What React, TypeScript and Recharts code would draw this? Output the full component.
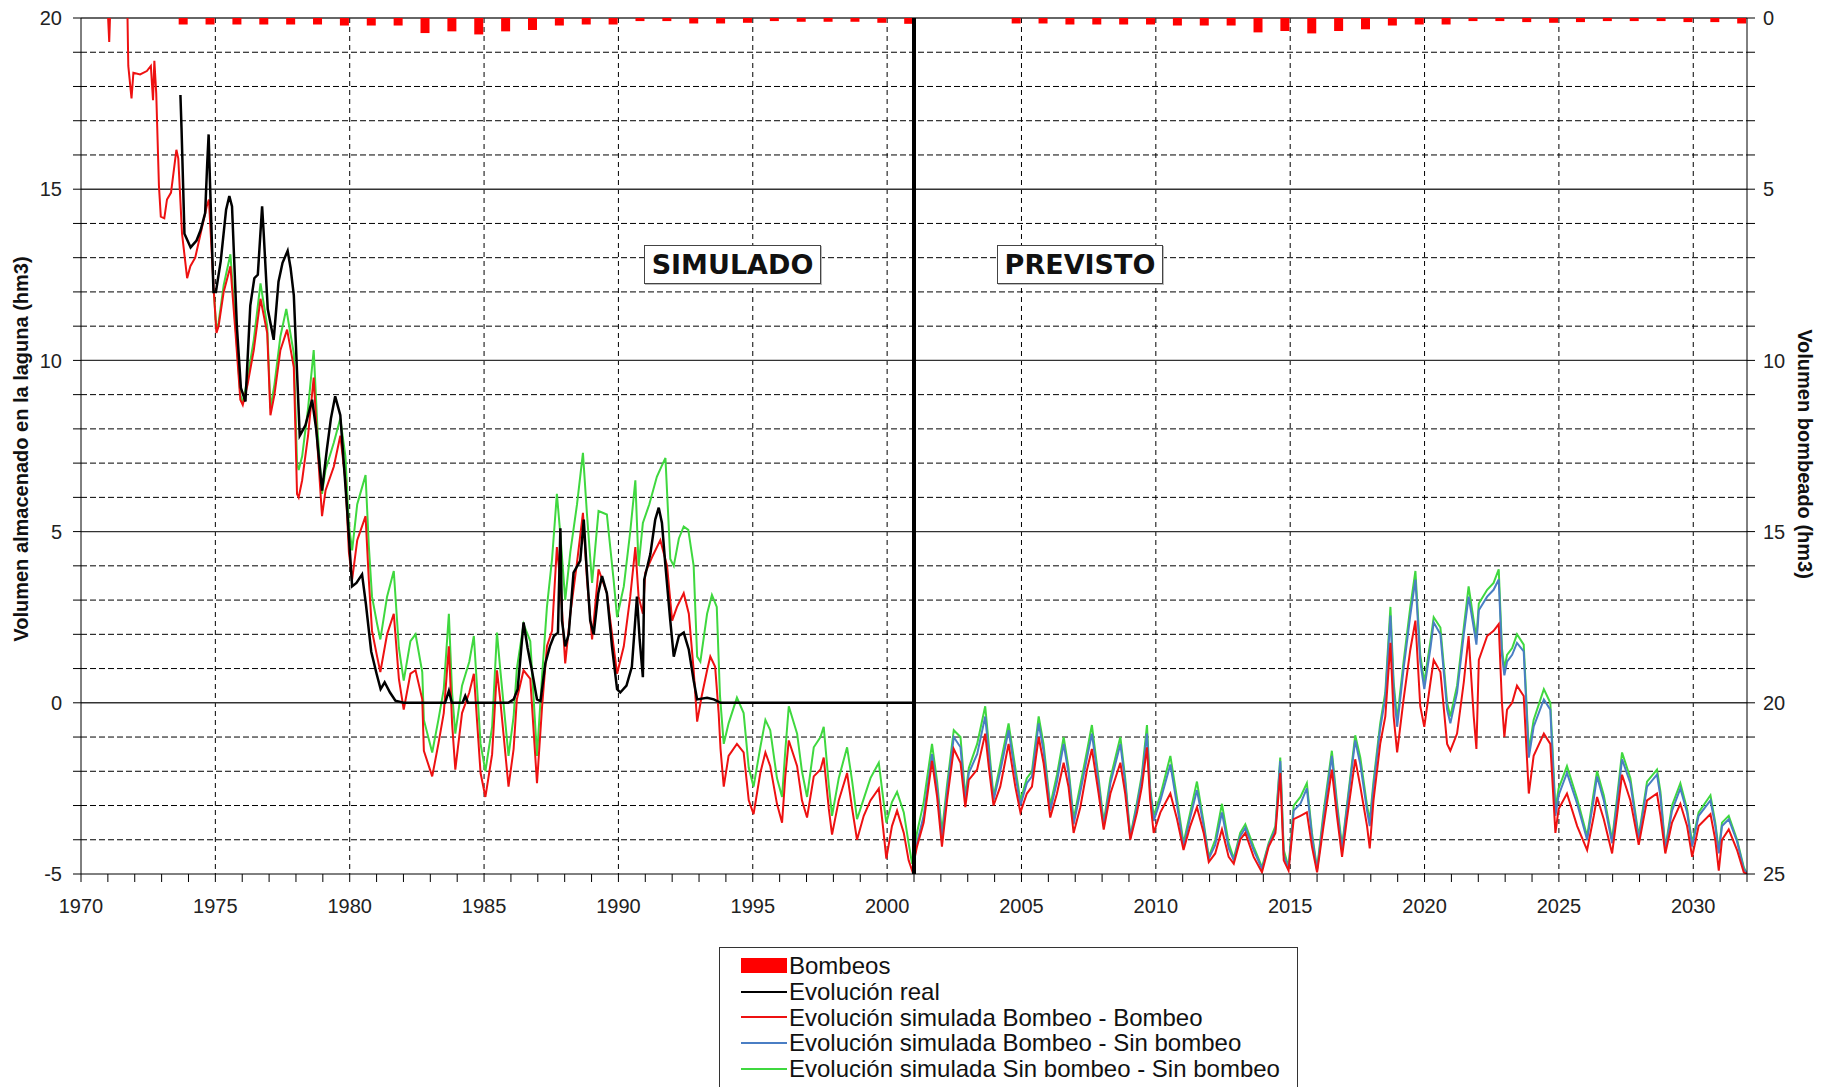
import React from 'react';
import { ComposedChart, Line, Bar, XAxis, YAxis, CartesianGrid, ReferenceLine } from 'recharts';

type Pt = [number, number];

// volumen bombeado por campaña (hm3), eje derecho invertido
const bombeos: Pt[] = [
  [1973.8, 0.19], [1974.8, 0.19], [1975.8, 0.19], [1976.8, 0.19], [1977.8, 0.19], [1978.8, 0.19],
  [1979.8, 0.22], [1980.8, 0.22], [1981.8, 0.22], [1982.8, 0.44], [1983.8, 0.39], [1984.8, 0.48],
  [1985.8, 0.39], [1986.8, 0.35], [1987.8, 0.22], [1988.8, 0.19], [1989.8, 0.19], [1990.8, 0.09],
  [1991.8, 0.09], [1992.8, 0.16], [1993.8, 0.16], [1994.8, 0.14], [1995.8, 0.09], [1996.8, 0.11],
  [1997.8, 0.11], [1998.8, 0.11], [1999.8, 0.14], [2000.8, 0.17],
  [2004.8, 0.16], [2005.8, 0.16], [2006.8, 0.19], [2007.8, 0.19], [2008.8, 0.19], [2009.8, 0.19],
  [2010.8, 0.22], [2011.8, 0.22], [2012.8, 0.22], [2013.8, 0.42], [2014.8, 0.38], [2015.8, 0.45],
  [2016.8, 0.38], [2017.8, 0.33], [2018.8, 0.22], [2019.8, 0.19], [2020.8, 0.19], [2021.8, 0.09],
  [2022.8, 0.09], [2023.8, 0.12], [2024.8, 0.14], [2025.8, 0.12], [2026.8, 0.09], [2027.8, 0.09],
  [2028.8, 0.09], [2029.8, 0.12], [2030.8, 0.12], [2031.8, 0.16],
];

const evolucionReal: Pt[] = [
  [1973.7, 17.75], [1973.74, 16.8], [1973.85, 13.7], [1974.08, 13.3], [1974.3, 13.5], [1974.45, 13.8],
  [1974.62, 14.3], [1974.7, 15.8], [1974.75, 16.6], [1974.8, 15.2], [1974.93, 12.0], [1975.02, 12.0],
  [1975.2, 12.9], [1975.4, 14.4], [1975.52, 14.8], [1975.62, 14.5], [1975.8, 11.0], [1975.95, 9.2],
  [1976.12, 8.8], [1976.3, 11.6], [1976.45, 12.4], [1976.58, 12.5], [1976.74, 14.5], [1976.8, 13.7],
  [1976.95, 11.5], [1977.17, 10.6], [1977.35, 12.3], [1977.5, 12.85], [1977.69, 13.2], [1977.8, 12.7],
  [1977.92, 11.9], [1978.14, 7.8], [1978.35, 8.1], [1978.6, 8.85], [1978.75, 8.0], [1978.97, 6.2],
  [1979.15, 7.4], [1979.3, 8.3], [1979.46, 8.95], [1979.65, 8.4], [1979.9, 5.7], [1980.09, 3.4],
  [1980.25, 3.5], [1980.46, 3.75], [1980.6, 2.9], [1980.8, 1.5], [1981.0, 0.85], [1981.15, 0.4],
  [1981.3, 0.6], [1981.5, 0.3], [1981.7, 0.06], [1982.0, 0.0], [1983.55, 0.0], [1983.69, 0.35],
  [1983.8, 0.0], [1984.2, 0.0], [1984.3, 0.2], [1984.4, 0.0], [1985.9, 0.0], [1986.1, 0.1],
  [1986.25, 0.4], [1986.47, 2.35], [1986.62, 1.6], [1986.78, 0.95], [1986.97, 0.1], [1987.1, 0.05],
  [1987.28, 1.15], [1987.45, 1.65], [1987.6, 1.95], [1987.75, 2.05], [1987.84, 5.1], [1987.9, 2.4],
  [1988.02, 1.65], [1988.15, 2.0], [1988.33, 3.8], [1988.58, 4.15], [1988.71, 5.35], [1988.8, 4.15],
  [1988.95, 2.4], [1989.08, 2.0], [1989.25, 3.2], [1989.39, 3.7], [1989.57, 3.2], [1989.76, 1.65],
  [1989.95, 0.4], [1990.07, 0.3], [1990.3, 0.5], [1990.5, 1.05], [1990.69, 3.1], [1990.79, 1.85],
  [1990.91, 0.75], [1990.96, 3.6], [1991.19, 4.35], [1991.37, 5.35], [1991.5, 5.7], [1991.62, 5.25],
  [1991.75, 4.0], [1991.93, 2.4], [1992.06, 1.35], [1992.25, 1.95], [1992.43, 2.05], [1992.62, 1.55],
  [1992.8, 0.65], [1992.93, 0.1], [1993.3, 0.15], [1993.55, 0.1], [1993.8, 0.0], [2001.0, 0.0],
];

const simBombeoBombeo: Pt[] = [
  [1970.95, 21.0], [1971.05, 19.3], [1971.12, 21.0], [1971.7, 21.5], [1971.76, 18.6], [1971.88, 17.65],
  [1971.95, 18.4], [1972.2, 18.35], [1972.45, 18.45], [1972.6, 18.6], [1972.68, 17.6], [1972.73, 18.75],
  [1972.8, 17.8], [1972.9, 15.1], [1972.97, 14.2], [1973.1, 14.15], [1973.2, 14.7], [1973.35, 14.9],
  [1973.55, 16.15], [1973.62, 15.9], [1973.76, 13.7], [1973.95, 12.4], [1974.07, 12.75], [1974.25, 13.0],
  [1974.45, 13.7], [1974.68, 14.5], [1974.76, 14.7], [1974.94, 12.05], [1975.04, 10.8], [1975.12, 11.0],
  [1975.31, 12.0], [1975.56, 12.75], [1975.75, 10.8], [1975.93, 8.85], [1976.02, 8.7], [1976.2, 9.3],
  [1976.43, 10.3], [1976.68, 11.8], [1976.93, 10.8], [1977.05, 8.4], [1977.2, 9.0], [1977.42, 10.3],
  [1977.67, 10.9], [1977.92, 9.8], [1978.04, 6.1], [1978.1, 6.0], [1978.23, 6.5], [1978.45, 7.8],
  [1978.66, 9.5], [1978.8, 7.5], [1978.97, 5.45], [1979.1, 6.2], [1979.41, 6.9], [1979.65, 7.8],
  [1979.84, 6.5], [1979.97, 4.4], [1980.09, 3.6], [1980.28, 4.75], [1980.59, 5.45], [1980.71, 3.6],
  [1980.83, 2.1], [1981.02, 1.35], [1981.14, 0.9], [1981.39, 2.0], [1981.64, 2.6], [1981.83, 0.7],
  [1982.01, -0.2], [1982.26, 0.85], [1982.45, 0.95], [1982.7, 0.1], [1982.76, -1.4], [1983.07, -2.15],
  [1983.3, -1.2], [1983.5, -0.3], [1983.69, 1.65], [1983.81, -0.6], [1983.93, -1.95], [1984.18, -0.3],
  [1984.45, 0.3], [1984.62, 0.85], [1984.87, -2.05], [1985.05, -2.75], [1985.3, -1.5], [1985.48, 0.95],
  [1985.6, 0.1], [1985.91, -2.45], [1986.1, -1.35], [1986.22, 0.1], [1986.47, 0.95], [1986.72, 0.7],
  [1986.97, -2.35], [1987.16, -0.1], [1987.34, 1.65], [1987.53, 2.1], [1987.71, 4.55], [1987.83, 3.6],
  [1988.02, 1.15], [1988.21, 2.6], [1988.46, 4.1], [1988.68, 5.55], [1988.83, 3.6], [1989.02, 1.85],
  [1989.26, 3.9], [1989.57, 3.2], [1989.82, 1.65], [1989.95, 0.85], [1990.2, 1.65], [1990.44, 3.1],
  [1990.63, 4.55], [1990.75, 3.1], [1990.91, 2.6], [1991.0, 3.8], [1991.25, 4.25], [1991.56, 4.75],
  [1991.81, 4.0], [1992.0, 2.4], [1992.18, 2.8], [1992.43, 3.2], [1992.62, 2.6], [1992.8, 0.95],
  [1992.93, -0.55], [1993.1, 0.2], [1993.3, 0.95], [1993.42, 1.35], [1993.6, 1.05], [1993.73, -0.3],
  [1993.8, -1.35], [1993.92, -2.45], [1994.1, -1.55], [1994.41, -1.2], [1994.66, -1.45], [1994.85, -2.85],
  [1995.03, -3.25], [1995.28, -2.05], [1995.47, -1.45], [1995.65, -1.85], [1995.9, -2.95], [1996.09, -3.5],
  [1996.21, -2.15], [1996.34, -1.1], [1996.65, -1.85], [1996.83, -2.85], [1997.02, -3.35], [1997.27, -2.15],
  [1997.52, -1.95], [1997.64, -1.6], [1997.83, -3.1], [1997.95, -3.85], [1998.2, -2.85], [1998.51, -2.05],
  [1998.7, -3.1], [1998.88, -4.0], [1999.13, -3.3], [1999.38, -2.85], [1999.69, -2.5], [1999.87, -3.8],
  [1999.97, -4.55], [2000.18, -3.6], [2000.37, -3.15], [2000.62, -3.8], [2000.8, -4.6], [2000.93, -4.9],
  [2001.11, -4.2], [2001.36, -3.5], [2001.67, -1.7], [2001.86, -2.75], [2002.04, -4.2], [2002.23, -2.85],
  [2002.48, -1.35], [2002.73, -1.75], [2002.91, -3.05], [2003.04, -2.25], [2003.35, -1.95], [2003.65, -0.9],
  [2003.78, -1.85], [2003.96, -3.0], [2004.21, -2.45], [2004.52, -1.2], [2004.77, -2.45], [2004.96, -3.2],
  [2005.2, -2.65], [2005.39, -2.45], [2005.64, -1.0], [2005.82, -1.75], [2006.07, -3.35], [2006.32, -2.65],
  [2006.57, -1.75], [2006.75, -2.45], [2006.94, -3.8], [2007.19, -3.05], [2007.44, -1.95], [2007.62, -1.35],
  [2007.87, -2.65], [2008.06, -3.7], [2008.31, -2.65], [2008.68, -1.75], [2008.86, -2.65], [2009.05, -4.0],
  [2009.3, -3.2], [2009.48, -2.45], [2009.67, -1.3], [2009.79, -2.85], [2009.92, -3.8], [2010.17, -3.2],
  [2010.54, -2.65], [2010.79, -3.4], [2011.03, -4.3], [2011.28, -3.6], [2011.53, -3.05], [2011.78, -3.8],
  [2011.97, -4.65], [2012.21, -4.4], [2012.46, -3.7], [2012.71, -4.5], [2012.9, -4.7], [2013.14, -4.0],
  [2013.33, -3.8], [2013.64, -4.5], [2013.95, -4.95], [2014.2, -4.2], [2014.45, -3.8], [2014.63, -2.05],
  [2014.76, -4.6], [2014.94, -4.9], [2015.13, -3.4], [2015.38, -3.3], [2015.62, -3.2], [2015.81, -4.2],
  [2016.0, -4.95], [2016.24, -3.6], [2016.55, -1.95], [2016.74, -3.3], [2016.93, -4.5], [2017.11, -3.4],
  [2017.42, -1.65], [2017.61, -2.45], [2017.86, -3.6], [2017.96, -4.25], [2018.1, -2.85], [2018.35, -1.2],
  [2018.54, -0.4], [2018.73, 1.75], [2018.85, -0.4], [2018.98, -1.45], [2019.22, 0.1], [2019.47, 1.55],
  [2019.66, 2.4], [2019.84, -0.1], [2019.99, -0.7], [2020.22, 0.6], [2020.34, 1.25], [2020.59, 0.9],
  [2020.84, -1.2], [2020.96, -1.4], [2021.21, -0.9], [2021.46, 0.6], [2021.64, 1.95], [2021.83, -0.4],
  [2021.93, -1.35], [2022.02, 1.25], [2022.33, 1.95], [2022.57, 2.1], [2022.76, 2.3], [2022.88, 0.0],
  [2022.97, -1.0], [2023.07, -0.2], [2023.26, 0.0], [2023.44, 0.5], [2023.69, 0.2], [2023.88, -2.65],
  [2024.06, -1.55], [2024.44, -0.9], [2024.68, -1.2], [2024.87, -3.8], [2024.99, -3.1], [2025.3, -2.65],
  [2025.68, -3.6], [2026.05, -4.3], [2026.3, -3.3], [2026.42, -2.75], [2026.67, -3.4], [2026.98, -4.4],
  [2027.16, -3.3], [2027.35, -2.1], [2027.66, -2.85], [2027.97, -4.15], [2028.28, -2.85], [2028.65, -2.65],
  [2028.78, -3.3], [2028.96, -4.4], [2029.21, -3.5], [2029.52, -2.95], [2029.77, -3.6], [2029.96, -4.5],
  [2030.2, -3.6], [2030.64, -3.25], [2030.82, -4.0], [2030.95, -4.9], [2031.07, -4.0], [2031.32, -3.7],
  [2031.63, -4.3], [2031.88, -4.95], [2032.0, -5.0],
];

const simBombeoSinBombeo: Pt[] = [
  [2000.93, -4.9], [2001.11, -4.1], [2001.36, -3.3], [2001.67, -1.5], [2001.86, -2.5], [2002.04, -4.0],
  [2002.23, -2.6], [2002.48, -1.0], [2002.73, -1.3], [2002.91, -2.9], [2003.04, -2.05], [2003.35, -1.5],
  [2003.65, -0.4], [2003.78, -1.45], [2003.96, -2.85], [2004.21, -2.0], [2004.52, -0.8], [2004.77, -2.1],
  [2004.96, -3.0], [2005.2, -2.35], [2005.39, -2.15], [2005.64, -0.6], [2005.82, -1.4], [2006.07, -3.15],
  [2006.32, -2.3], [2006.57, -1.2], [2006.75, -2.05], [2006.94, -3.55], [2007.19, -2.6], [2007.44, -1.6],
  [2007.62, -0.9], [2007.87, -2.35], [2008.06, -3.6], [2008.31, -2.35], [2008.68, -1.2], [2008.86, -2.35],
  [2009.05, -3.95], [2009.3, -3.0], [2009.48, -2.2], [2009.67, -0.9], [2009.79, -2.6], [2009.92, -3.45],
  [2010.17, -2.85], [2010.54, -1.8], [2010.79, -3.0], [2011.03, -4.2], [2011.28, -3.35], [2011.53, -2.55],
  [2011.78, -3.6], [2011.97, -4.55], [2012.21, -4.15], [2012.46, -3.2], [2012.71, -4.25], [2012.9, -4.6],
  [2013.14, -3.9], [2013.33, -3.65], [2013.64, -4.3], [2013.95, -4.85], [2014.2, -4.15], [2014.45, -3.7],
  [2014.63, -1.7], [2014.76, -4.45], [2014.94, -4.85], [2015.13, -3.15], [2015.38, -2.95], [2015.62, -2.5],
  [2015.81, -3.9], [2016.0, -4.9], [2016.24, -3.35], [2016.55, -1.55], [2016.74, -3.05], [2016.93, -4.3],
  [2017.11, -3.1], [2017.42, -1.1], [2017.61, -1.8], [2017.86, -3.15], [2017.96, -3.6], [2018.1, -2.45],
  [2018.35, -0.75], [2018.54, 0.15], [2018.73, 2.55], [2018.85, 0.4], [2018.98, -0.7], [2019.22, 1.0],
  [2019.47, 2.55], [2019.66, 3.6], [2019.84, 1.2], [2019.99, 0.4], [2020.22, 1.6], [2020.34, 2.35],
  [2020.59, 2.0], [2020.84, -0.2], [2020.96, -0.6], [2021.21, 0.3], [2021.46, 2.0], [2021.64, 3.1],
  [2021.83, 2.2], [2021.93, 1.7], [2022.02, 2.7], [2022.33, 3.1], [2022.57, 3.3], [2022.76, 3.6],
  [2022.88, 1.4], [2022.97, 0.8], [2023.07, 1.2], [2023.26, 1.4], [2023.44, 1.75], [2023.69, 1.5],
  [2023.88, -1.6], [2024.06, -0.7], [2024.44, 0.1], [2024.68, -0.2], [2024.87, -3.3], [2024.99, -2.7],
  [2025.3, -2.05], [2025.68, -2.95], [2026.05, -4.0], [2026.3, -2.8], [2026.42, -2.15], [2026.67, -2.85],
  [2026.98, -4.1], [2027.16, -2.95], [2027.35, -1.65], [2027.66, -2.35], [2027.97, -4.0], [2028.28, -2.45],
  [2028.65, -2.1], [2028.78, -2.75], [2028.96, -4.3], [2029.21, -3.15], [2029.52, -2.5], [2029.77, -3.2],
  [2029.96, -4.2], [2030.2, -3.3], [2030.64, -2.85], [2030.82, -3.6], [2030.95, -4.4], [2031.07, -3.6],
  [2031.32, -3.4], [2031.63, -4.05], [2031.88, -4.85], [2032.0, -5.0],
];

const simSinBombeo: Pt[] = [
  [1974.94, 12.05], [1975.04, 10.9], [1975.12, 11.1], [1975.31, 12.2], [1975.56, 13.1], [1975.75, 11.0],
  [1975.93, 9.0], [1976.02, 8.75], [1976.2, 9.5], [1976.43, 10.6], [1976.68, 12.25], [1976.93, 11.0],
  [1977.05, 8.6], [1977.2, 9.3], [1977.42, 10.7], [1977.64, 11.5], [1977.92, 10.2], [1978.04, 7.0],
  [1978.1, 6.8], [1978.23, 7.2], [1978.45, 8.6], [1978.66, 10.3], [1978.8, 8.0], [1978.97, 6.1],
  [1979.1, 6.8], [1979.41, 7.6], [1979.65, 8.3], [1979.84, 7.2], [1979.97, 5.2], [1980.09, 4.45],
  [1980.28, 5.8], [1980.59, 6.65], [1980.71, 4.6], [1980.83, 3.1], [1981.02, 2.3], [1981.14, 1.85],
  [1981.39, 3.1], [1981.64, 3.85], [1981.83, 1.6], [1982.01, 0.65], [1982.26, 1.8], [1982.45, 2.0],
  [1982.7, 0.9], [1982.76, -0.5], [1983.07, -1.45], [1983.3, -0.5], [1983.5, 0.4], [1983.69, 2.6],
  [1983.81, 0.3], [1983.93, -0.9], [1984.18, 0.5], [1984.45, 1.2], [1984.62, 1.95], [1984.87, -1.2],
  [1985.05, -2.0], [1985.3, -0.7], [1985.48, 2.05], [1985.6, 1.0], [1985.91, -1.55], [1986.1, -0.4],
  [1986.22, 1.0], [1986.47, 2.3], [1986.72, 1.8], [1986.97, -1.55], [1987.16, 0.8], [1987.34, 2.8],
  [1987.53, 4.2], [1987.71, 6.1], [1987.83, 5.0], [1988.02, 3.0], [1988.21, 4.4], [1988.46, 5.8],
  [1988.68, 7.3], [1988.83, 5.5], [1989.02, 3.5], [1989.26, 5.6], [1989.57, 5.5], [1989.82, 3.6],
  [1989.95, 2.5], [1990.2, 3.4], [1990.44, 5.0], [1990.63, 6.5], [1990.75, 4.0], [1990.91, 5.25],
  [1991.15, 5.8], [1991.43, 6.6], [1991.6, 6.9], [1991.75, 7.15], [1991.93, 4.2], [1992.06, 4.0],
  [1992.25, 4.8], [1992.43, 5.15], [1992.6, 5.05], [1992.8, 4.0], [1992.93, 1.35], [1993.05, 1.2],
  [1993.3, 2.6], [1993.48, 3.15], [1993.66, 2.8], [1993.78, 0.2], [1993.92, -1.2], [1994.1, -0.6],
  [1994.41, 0.15], [1994.66, -0.3], [1994.85, -1.9], [1995.03, -2.45], [1995.28, -1.3], [1995.47, -0.5],
  [1995.65, -0.8], [1995.9, -2.2], [1996.09, -2.75], [1996.21, -1.4], [1996.34, -0.1], [1996.65, -0.9],
  [1996.83, -2.0], [1997.02, -2.75], [1997.27, -1.3], [1997.52, -1.0], [1997.64, -0.7], [1997.83, -2.4],
  [1997.95, -3.3], [1998.2, -2.2], [1998.51, -1.3], [1998.7, -2.3], [1998.88, -3.4], [1999.13, -2.8],
  [1999.38, -2.2], [1999.69, -1.75], [1999.87, -2.9], [1999.97, -3.5], [2000.18, -2.9], [2000.37, -2.6],
  [2000.62, -3.2], [2000.8, -4.1], [2000.93, -4.7], [2001.11, -3.8], [2001.36, -2.9], [2001.67, -1.2],
  [2001.86, -2.3], [2002.04, -3.8], [2002.23, -2.4], [2002.48, -0.8], [2002.73, -1.0], [2002.91, -2.75],
  [2003.04, -1.9], [2003.35, -1.2], [2003.65, -0.1], [2003.78, -1.2], [2003.96, -2.75], [2004.21, -1.8],
  [2004.52, -0.6], [2004.77, -1.9], [2004.96, -2.85], [2005.2, -2.2], [2005.39, -2.0], [2005.64, -0.4],
  [2005.82, -1.2], [2006.07, -3.0], [2006.32, -2.1], [2006.57, -1.0], [2006.75, -1.9], [2006.94, -3.4],
  [2007.19, -2.4], [2007.44, -1.4], [2007.62, -0.65], [2007.87, -2.2], [2008.06, -3.5], [2008.31, -2.2],
  [2008.68, -1.0], [2008.86, -2.2], [2009.05, -3.9], [2009.3, -2.9], [2009.48, -2.1], [2009.67, -0.65],
  [2009.79, -2.5], [2009.92, -3.3], [2010.17, -2.7], [2010.54, -1.55], [2010.79, -2.8], [2011.03, -4.1],
  [2011.28, -3.2], [2011.53, -2.3], [2011.78, -3.5], [2011.97, -4.5], [2012.21, -4.0], [2012.46, -2.95],
  [2012.71, -4.1], [2012.9, -4.55], [2013.14, -3.8], [2013.33, -3.55], [2013.64, -4.2], [2013.95, -4.8],
  [2014.2, -4.1], [2014.45, -3.6], [2014.63, -1.6], [2014.76, -4.3], [2014.94, -4.8], [2015.13, -3.0],
  [2015.38, -2.75], [2015.62, -2.35], [2015.81, -3.8], [2016.0, -4.85], [2016.24, -3.2], [2016.55, -1.4],
  [2016.74, -2.9], [2016.93, -4.2], [2017.11, -3.0], [2017.42, -0.95], [2017.61, -1.6], [2017.86, -3.0],
  [2017.96, -3.45], [2018.1, -2.3], [2018.35, -0.6], [2018.54, 0.3], [2018.73, 2.8], [2018.85, 0.6],
  [2018.98, -0.5], [2019.22, 1.2], [2019.47, 2.8], [2019.66, 3.85], [2019.84, 1.4], [2019.99, 0.6],
  [2020.22, 1.8], [2020.34, 2.5], [2020.59, 2.2], [2020.84, 0.0], [2020.96, -0.4], [2021.21, 0.5],
  [2021.46, 2.2], [2021.64, 3.4], [2021.83, 2.4], [2021.93, 1.9], [2022.02, 2.9], [2022.33, 3.3],
  [2022.57, 3.5], [2022.76, 3.9], [2022.88, 1.6], [2022.97, 1.0], [2023.07, 1.4], [2023.26, 1.6],
  [2023.44, 2.0], [2023.69, 1.7], [2023.88, -1.4], [2024.06, -0.5], [2024.44, 0.4], [2024.68, 0.0],
  [2024.87, -3.1], [2024.99, -2.5], [2025.3, -1.85], [2025.68, -2.8], [2026.05, -3.9], [2026.3, -2.6],
  [2026.42, -2.0], [2026.67, -2.7], [2026.98, -4.0], [2027.16, -2.8], [2027.35, -1.45], [2027.66, -2.2],
  [2027.97, -3.9], [2028.28, -2.3], [2028.65, -1.95], [2028.78, -2.6], [2028.96, -4.25], [2029.21, -3.0],
  [2029.52, -2.35], [2029.77, -3.1], [2029.96, -4.1], [2030.2, -3.2], [2030.64, -2.7], [2030.82, -3.5],
  [2030.95, -4.3], [2031.07, -3.5], [2031.32, -3.3], [2031.63, -4.0], [2031.88, -4.8], [2032.0, -5.0],
];

const yearTicks = Array.from({ length: 63 }, (_, i) => 1970 + i);
const volTicks = Array.from({ length: 26 }, (_, i) => -5 + i);
const bombTicks = Array.from({ length: 26 }, (_, i) => i);
const majorYears = [1975, 1980, 1985, 1990, 1995, 2000, 2005, 2010, 2015, 2020, 2025, 2030];
const majorLevels = [0, 5, 10, 15, 20];
const minorLevels = volTicks.filter((v) => v % 5 !== 0);

const RED = '#ee1111';
const BLUE = '#4a7ec4';
const GREEN = '#3fd83f';
const BAR_W = 9;

const legendItems = [
  { label: 'Bombeos', color: '#ff0000', box: true },
  { label: 'Evolución real', color: '#000000', box: false },
  { label: 'Evolución simulada Bombeo - Bombeo', color: RED, box: false },
  { label: 'Evolución simulada Bombeo - Sin bombeo', color: BLUE, box: false },
  { label: 'Evolución simulada Sin bombeo - Sin bombeo', color: GREEN, box: false },
];

const rows = (pts: Pt[]) => pts.map(([t, v]) => ({ t, v }));
const barRows = bombeos.map(([t, b]) => ({ t, b }));

// fixed-width column centred on the slot recharts computes for each campaign
function BombeoBar(props: any) {
  const { x, y, width, height, fill } = props;
  if (x == null || y == null) return null;
  const cx = x + (width || 0) / 2;
  const top = Math.min(y, y + height);
  return <rect x={cx - BAR_W / 2} y={top} width={BAR_W} height={Math.abs(height)} fill={fill} />;
}

const tickFont = { fill: '#222', fontSize: 20, fontFamily: 'Liberation Sans' };
const titleStyle: React.CSSProperties = {
  position: 'absolute', whiteSpace: 'nowrap', fontFamily: 'Liberation Sans', fontWeight: 'bold',
  fontSize: 20, color: '#111',
};
const tagStyle: React.CSSProperties = {
  position: 'absolute', top: 245, height: 39, border: '1px solid #444', boxSizing: 'border-box',
  background: '#fff', fontFamily: 'DejaVu Sans', fontWeight: 'bold', fontSize: 27, color: '#111',
  display: 'flex', alignItems: 'center', justifyContent: 'center', boxShadow: '1px 1px 0 #bbb',
};

export default function App() {
  return (
    <div style={{ position: 'absolute', left: 0, top: 0, width: 1827, height: 1087, background: '#fff', overflow: 'hidden' }}>
      <ComposedChart width={1827} height={930} data={barRows} margin={{ top: 18, right: 20, bottom: 0, left: 20 }}>
        <CartesianGrid horizontal={false} verticalValues={majorYears} stroke="#000" strokeDasharray="5 4" />
        <CartesianGrid vertical={false} horizontalValues={minorLevels} stroke="#000" strokeDasharray="6 3" />
        <CartesianGrid vertical={false} horizontalValues={majorLevels} stroke="#333" strokeWidth={1.4} />
        <XAxis
          dataKey="t" type="number" domain={[1970, 2032]} allowDataOverflow ticks={yearTicks} interval={0}
          tickFormatter={(v: number) => (v % 5 === 0 ? String(v) : '')}
          tick={tickFont} tickSize={8} tickMargin={17} height={56} stroke="#000"
        />
        <XAxis xAxisId="campaign" dataKey="t" type="number" domain={[1970, 2032]} allowDataOverflow hide />
        <YAxis
          domain={[-5, 20]} allowDataOverflow ticks={volTicks} interval={0}
          tickFormatter={(v: number) => (v % 5 === 0 ? String(v) : '')}
          tick={tickFont} tickSize={8} tickMargin={11} width={61} stroke="#000"
        />
        <YAxis
          yAxisId="bomb" orientation="right" reversed domain={[0, 25]} ticks={bombTicks} interval={0}
          tickFormatter={(v: number) => (v % 5 === 0 ? String(v) : '')}
          tick={tickFont} tickSize={8} tickMargin={8} width={60} stroke="#000"
        />
        <Bar xAxisId="campaign" yAxisId="bomb" dataKey="b" fill="#ff0000" barSize={BAR_W} shape={BombeoBar} isAnimationActive={false} />
        <Line data={rows(simSinBombeo)} dataKey="v" type="linear" stroke={GREEN} strokeWidth={2} dot={false} isAnimationActive={false} />
        <Line data={rows(simBombeoSinBombeo)} dataKey="v" type="linear" stroke={BLUE} strokeWidth={2} dot={false} isAnimationActive={false} />
        <Line data={rows(simBombeoBombeo)} dataKey="v" type="linear" stroke={RED} strokeWidth={2} dot={false} isAnimationActive={false} />
        <Line data={rows(evolucionReal)} dataKey="v" type="linear" stroke="#000" strokeWidth={2.5} dot={false} isAnimationActive={false} />
        <ReferenceLine x={2001} stroke="#000" strokeWidth={4} />
      </ComposedChart>

      <div style={{ ...tagStyle, left: 644, width: 177 }}>SIMULADO</div>
      <div style={{ ...tagStyle, left: 997, width: 166 }}>PREVISTO</div>

      <div style={{ ...titleStyle, left: 21, top: 449, transform: 'translate(-50%, -50%) rotate(-90deg)' }}>
        Volumen almacenado en la laguna (hm3)
      </div>
      <div style={{ ...titleStyle, left: 1804, top: 454, transform: 'translate(-50%, -50%) rotate(90deg)' }}>
        Volumen bombeado (hm3)
      </div>

      <div style={{ position: 'absolute', left: 719, top: 947, width: 579, height: 160, border: '1.5px solid #333', boxSizing: 'border-box', background: '#fff' }}>
        {legendItems.map((it, i) => (
          <div key={it.label} style={{ position: 'absolute', left: 0, top: 5 + i * 25.8, height: 25.8, display: 'flex', alignItems: 'center' }}>
            <div style={{ position: 'absolute', left: 21, width: 46, height: it.box ? 15 : 2, background: it.color }} />
            <span style={{ position: 'absolute', left: 69, whiteSpace: 'nowrap', fontFamily: 'Liberation Sans', fontSize: 24, color: '#111', lineHeight: '25.8px' }}>
              {it.label}
            </span>
          </div>
        ))}
      </div>
    </div>
  );
}
